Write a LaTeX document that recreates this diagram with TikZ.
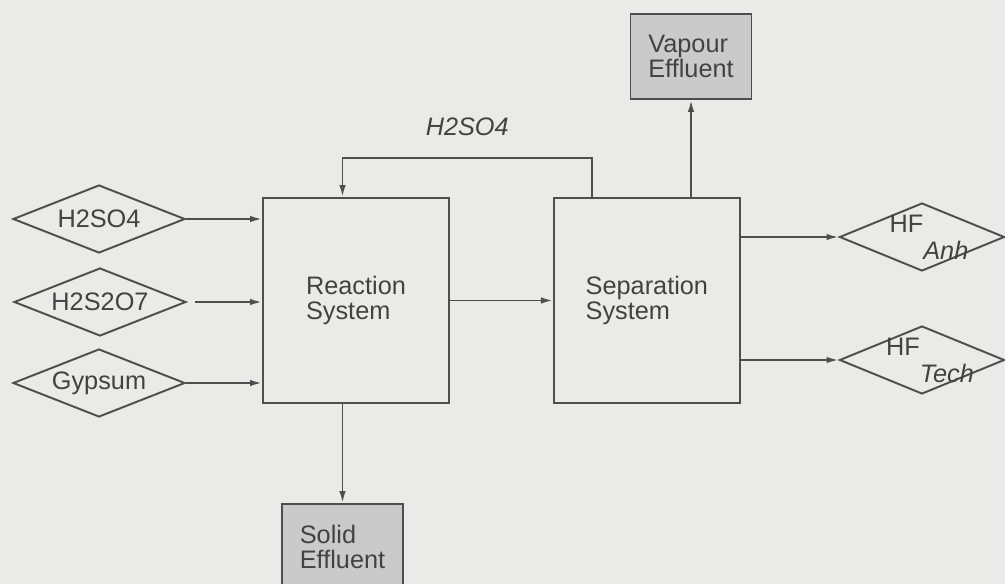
\documentclass[tikz,border=0pt]{standalone}
\usepackage{fontspec}
\setmainfont{Liberation Sans}
\usetikzlibrary{arrows.meta, positioning, shapes.geometric}
\definecolor{scanbg}{RGB}{234,234,232}
\definecolor{inkgray}{RGB}{78,78,78}
\definecolor{effluentgray}{RGB}{202,202,202}

\begin{document}
\begin{tikzpicture}[
        x=0.02cm, y=-0.02cm,
        every node/.style={text=inkgray!85!black, font=\fontsize{14.4}{14.2}\selectfont},
        feed/.style={diamond, draw=inkgray, line width=1.1pt, aspect=2.5, inner sep=0pt, minimum width=3.44cm, minimum height=1.36cm},
        product/.style={feed, minimum width=3.3cm},
        unit/.style={rectangle, draw=inkgray, line width=1.1pt, align=left, minimum width=3.72cm, minimum height=4.1cm},
        effluent/.style={rectangle, draw=inkgray, line width=1.1pt, fill=effluentgray, align=left, minimum width=2.42cm, minimum height=1.7cm},
        arrow/.style={-{Latex[length=0.24cm, width=0.13cm]}, draw=inkgray, line width=1.1pt},
        flowlabel/.style={font=\fontsize{14.4}{14.2}\selectfont\itshape}
    ]
    \useasboundingbox (0,0) rectangle (1005,584);
    \fill[scanbg] (0,0) rectangle (1005,584);

    \node[feed] (acid) at (99,219) {H2SO4};
    \node[feed] (oleum) at (100,302) {H2S2O7};
    \node[feed] (gypsum) at (99,383) {Gypsum};
    \node[unit] (reaction) at (356,300.5) {Reaction\\System};
    \node[unit, right=2.06cm of reaction] (separation) {Separation\\System};
    \node[effluent] (vapour) at (691,56.5) {Vapour\\Effluent};
    \node[effluent] (solid) at (342.5,546.5) {Solid\\Effluent};
    \node[product] (hfanh) at (922,237) {};
    \node[product] (hftech) at (922,360) {};
    \node[xshift=0.14cm] at (hfanh) {HF\raisebox{-15.4pt}{\itshape Anh}};
    \node[xshift=0.16cm] at (hftech) {HF\raisebox{-15.4pt}{\itshape Tech}};
    \coordinate (recycle) at (592,158);

    \draw[arrow] (acid.east) -- (acid.east -| reaction.west);
    \draw[arrow, shorten <=0.16cm] (oleum.east) -- (oleum.east -| reaction.west);
    \draw[arrow] (gypsum.east) -- (gypsum.east -| reaction.west);
    \draw[arrow] (reaction) -- (separation);
    \draw[arrow] (separation.east |- hfanh) -- (hfanh.west);
    \draw[arrow] (separation.east |- hftech) -- (hftech.west);
    \draw[arrow] (separation.north -| vapour) -- (vapour.south);
    \draw[arrow] (reaction.south -| solid) -- (solid.north);
    \draw[arrow] (separation.north -| recycle) -- (recycle) -- node[flowlabel, above=0.3cm] {H2SO4} (recycle -| solid) -- (reaction.north -| solid);

\end{tikzpicture}
\end{document}
